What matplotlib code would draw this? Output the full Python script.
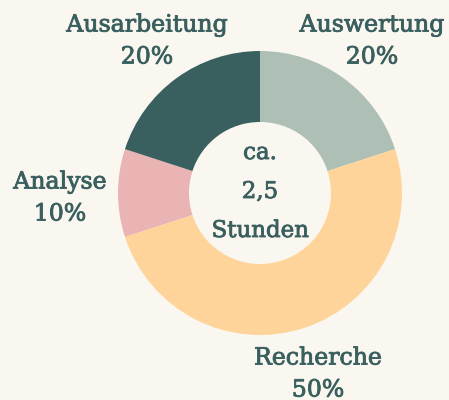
import matplotlib.pyplot as plt
import matplotlib.patheffects as pe

# data
phases = ['Auswertung', 'Recherche', 'Analyse', 'Ausarbeitung']
shares = [20, 50, 10, 20]
colors = ['#aebfb6', '#ffd49a', '#e9b4b3', '#3a5f5f']
center_lines = ['ca.', '2,5', 'Stunden']

bg = '#faf7f0'
ink = '#3a5f5f'

fig = plt.figure(figsize=(4.49, 4.0), dpi=100, facecolor=bg)
ax = fig.add_axes([0, 0, 1, 1])
ax.set_facecolor(bg)

cx, cy, r = 260, 207, 142
ax.pie(shares, colors=colors, startangle=90, counterclock=False,
       radius=r, center=(cx, cy), frame=True,
       wedgeprops=dict(width=r / 2, linewidth=0))
ax.set_xlim(0, 449)
ax.set_ylim(0, 400)
ax.set_aspect('equal')
ax.axis('off')

# slightly heavier strokes, like the reference's display serif
stroke = [pe.withStroke(linewidth=0.6, foreground=ink)]
font = dict(family='DejaVu Serif', color=ink, ha='center', va='center',
            path_effects=stroke)

# label positions (pixel coords, y up)
label_pos = {'Auswertung': (372, 359), 'Recherche': (318, 26),
             'Analyse': (60, 202), 'Ausarbeitung': (147, 359)}
for name, val in zip(phases, shares):
    x, y = label_pos[name]
    ax.text(x, y + 16, name, fontsize=17, **font)
    ax.text(x, y - 16, f'{val}%', fontsize=17, **font)

for i, line in enumerate(center_lines):
    ax.text(cx, cy + 40 - 39 * i, line, fontsize=16.5, **font)

fig.savefig('out.png', dpi=100, facecolor=bg)
